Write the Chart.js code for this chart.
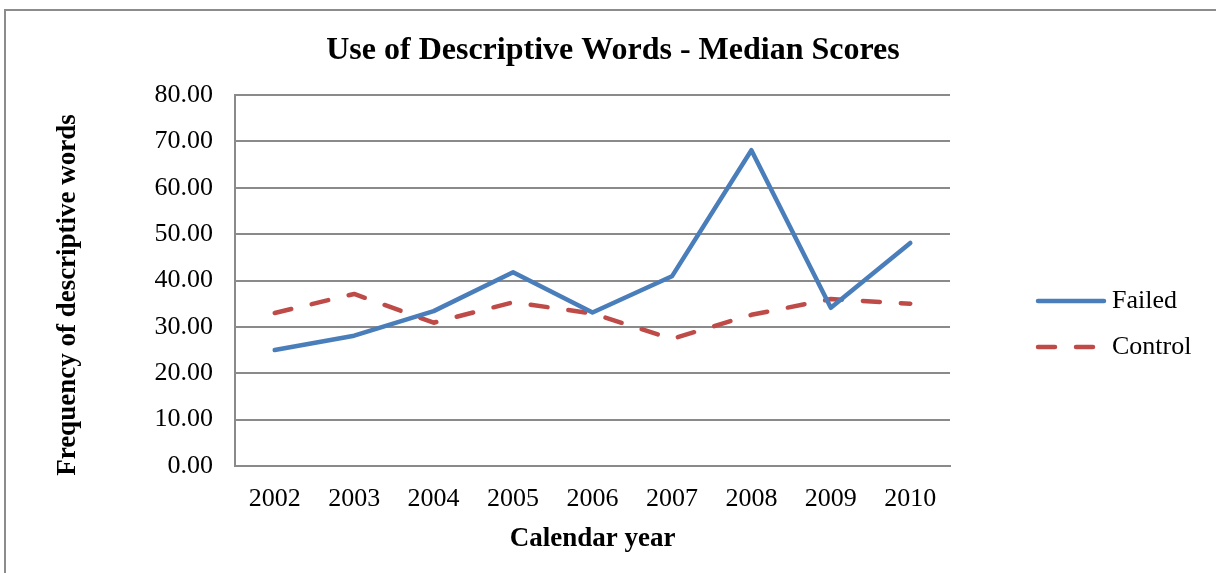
<!DOCTYPE html>
<html>
<head>
<meta charset="utf-8">
<script src="https://cdn.jsdelivr.net/npm/chart.js@4"></script>
<style>
  body { margin: 0; background: #fff; }
  #wrap { position: relative; width: 1216px; height: 573px; overflow: hidden; }
  #frame { position: absolute; left: 4px; top: 9px; width: 1300px; height: 700px;
           border-left: 2px solid #8c8c8c; border-top: 2px solid #8c8c8c; }
  canvas { position: absolute; left: 0; top: 0; }
</style>
</head>
<body>
<div id="wrap">
  <div id="frame"></div>
  <canvas id="chart" width="1216" height="573"></canvas>
</div>
<script>
const years = ["2002", "2003", "2004", "2005", "2006", "2007", "2008", "2009", "2010"];
const failed = [25.0, 28.1, 33.4, 41.8, 33.1, 40.9, 68.1, 34.1, 48.1];
const control = [33.0, 37.1, 30.9, 35.3, 32.9, 27.4, 32.6, 36.0, 35.0];

const serif = "'Liberation Serif', 'Times New Roman', serif";
const gridGray = "#8a8a8a";

// legend + y axis title drawn by hand, Excel puts them where chart.js won't
const extras = {
  id: "extras",
  afterDraw(chart) {
    const ctx = chart.ctx;
    chart.data.datasets.forEach((ds, i) => {
      const y = 301 + i * 46;
      ctx.save();
      ctx.strokeStyle = ds.borderColor;
      ctx.lineWidth = ds.borderWidth;
      ctx.lineCap = "round";
      ctx.setLineDash(ds.borderDash || []);
      ctx.beginPath();
      ctx.moveTo(1038, y);
      ctx.lineTo(1104, y);
      ctx.stroke();
      ctx.setLineDash([]);
      ctx.fillStyle = "#000";
      ctx.font = "26px " + serif;
      ctx.textBaseline = "middle";
      ctx.fillText(ds.label, 1112, y);
      ctx.restore();
    });

    ctx.save();
    ctx.translate(68, 295);
    ctx.rotate(-Math.PI / 2);
    ctx.fillStyle = "#000";
    ctx.font = "bold 27px " + serif;
    ctx.textAlign = "center";
    ctx.textBaseline = "middle";
    ctx.fillText("Frequency of descriptive words", 0, 0);
    ctx.restore();
  }
};

new Chart(document.getElementById("chart"), {
  type: "line",
  data: {
    labels: years,
    datasets: [
      {
        label: "Failed",
        data: failed,
        borderColor: "#4a7ebb",
        borderWidth: 4.5,
        pointRadius: 0,
        tension: 0,
        borderCapStyle: "round",
        borderJoinStyle: "round"
      },
      {
        label: "Control",
        data: control,
        borderColor: "#be4b48",
        borderWidth: 4.5,
        borderDash: [17, 21],
        pointRadius: 0,
        tension: 0,
        borderCapStyle: "round",
        borderJoinStyle: "round"
      }
    ]
  },
  options: {
    responsive: false,
    devicePixelRatio: 1,
    animation: false,
    layout: { padding: { left: 10, right: 0, top: 0, bottom: 0 } },
    plugins: {
      legend: { display: false },
      tooltip: { enabled: false },
      title: {
        display: true,
        text: "Use of Descriptive Words - Median Scores",
        color: "#000",
        font: { family: serif, size: 32, weight: "bold" },
        padding: { top: 32, bottom: 24.6 }
      }
    },
    scales: {
      x: {
        offset: true,
        grid: { display: false, drawTicks: false },
        border: { display: true, color: gridGray, width: 2 },
        ticks: { color: "#000", font: { family: serif, size: 26 }, padding: 18, maxRotation: 0 },
        title: {
          display: true,
          text: "Calendar year",
          color: "#000",
          font: { family: serif, size: 27, weight: "bold" },
          padding: { top: 0, bottom: 18 }
        },
        afterFit(scale) { scale.height = 107; }
      },
      y: {
        min: 0,
        max: 80,
        grid: { color: gridGray, lineWidth: 2, drawTicks: false },
        border: { display: true, color: gridGray, width: 2 },
        ticks: {
          stepSize: 10,
          color: "#000",
          font: { family: serif, size: 26 },
          padding: 22,
          callback: v => v.toFixed(2)
        },
        afterFit(scale) { scale.width = 225; }
      },
      // empty scale that only reserves room for the legend on the right
      side: {
        type: "linear",
        position: "right",
        grid: { display: false, drawTicks: false },
        border: { display: false },
        ticks: { display: false },
        afterFit(scale) { scale.width = 266; }
      }
    }
  },
  plugins: [extras]
});
</script>
</body>
</html>
